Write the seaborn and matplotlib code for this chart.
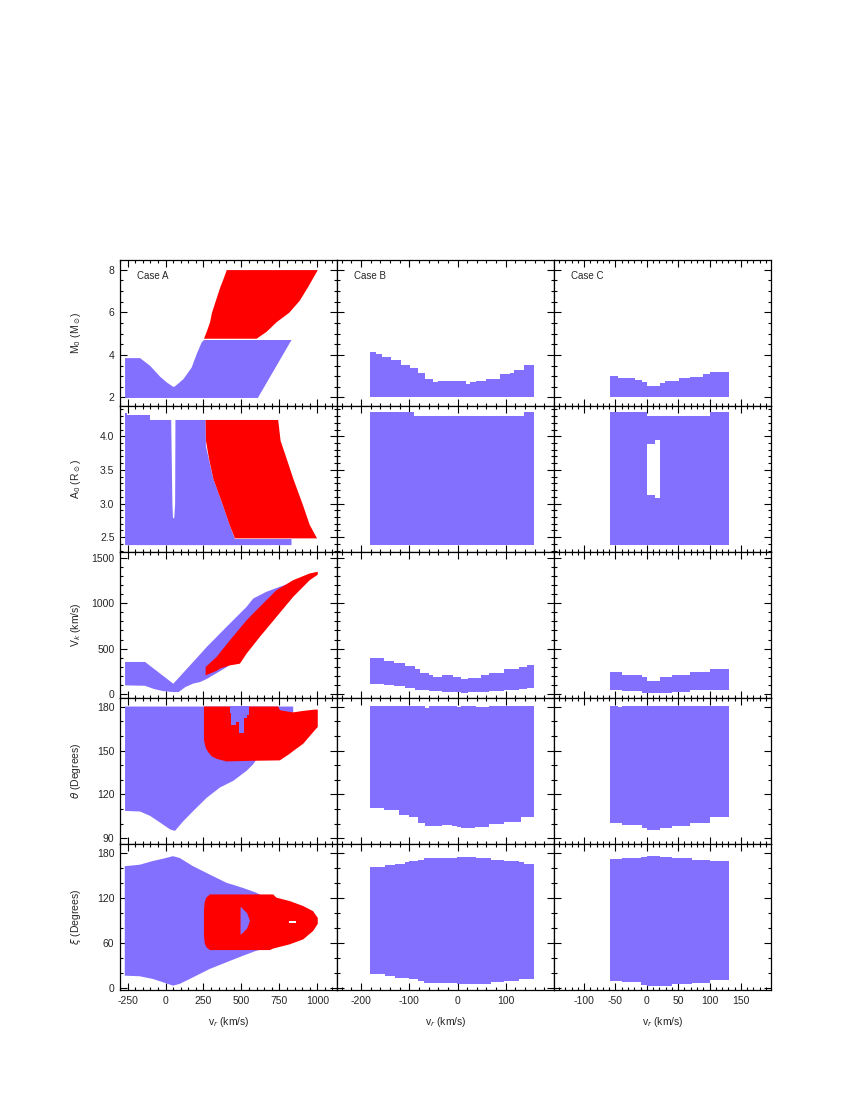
import matplotlib
matplotlib.use("Agg")
import matplotlib.pyplot as plt
from matplotlib.ticker import MultipleLocator, FixedLocator
import seaborn as sns

BLUE = "#8470ff"
RED = "#ff0000"

# ---------------- Case A (left column) ----------------
# M0 vs vr
a_m0_blue_vr = [-270, -171, -105, -39, 5, 48, 60, 114, 169, 202, 235, 250, 605, 827]
a_m0_blue_top = [3.87, 3.87, 3.51, 3.0, 2.73, 2.52, 2.55, 2.88, 3.43, 4.06, 4.61, 4.72, 4.72, 4.72]
a_m0_blue_bot = [2.0, 2.0, 2.0, 2.0, 2.0, 2.0, 2.0, 2.0, 2.0, 2.0, 2.0, 2.0, 2.0, 4.72]
a_m0_red_m = [4.78, 5.1, 5.55, 6.0, 6.55, 7.2, 7.6, 8.0]
a_m0_red_left = [250, 268, 290, 303, 328, 358, 380, 400]
a_m0_red_right = [597, 662, 728, 812, 880, 936, 968, 1000]

# A0 vs vr
a_a0_blue_a = [2.39, 2.48, 2.48, 2.69, 2.98, 3.38, 3.86, 4.25]
a_a0_blue_right = [827, 827, 454, 419, 375, 311, 263, 261]
a_a0_cap_vr = [-270, -255, -105]
a_a0_cap_top = [4.34, 4.31, 4.31]
a_a0_gap_a = [2.79, 3.0, 4.26]
a_a0_gap_left = [46, 42, 34]
a_a0_gap_right = [54, 60, 62]
a_a0_red_a = [2.49, 2.69, 2.98, 3.38, 3.68, 3.94, 4.25]
a_a0_red_left = [454, 419, 375, 311, 283, 263, 261]
a_a0_red_right = [995, 947, 903, 838, 794, 755, 739]

# Vk vs vr
a_vk_blue_vr = [-270, -138, -80, -20, 48, 83, 127, 180, 224, 268, 290, 399, 531, 575, 662, 750, 816]
a_vk_blue_top = [358, 358, 283, 206, 118, 182, 263, 360, 441, 523, 560, 745, 966, 1058, 1132, 1187, 1224]
a_vk_blue_bot = [100, 95, 60, 37, 26, 26, 81, 120, 136, 170, 192, 300, 500, 600, 780, 950, 1150]
a_vk_red_vr = [261, 333, 355, 421, 487, 531, 618, 728, 838, 947, 1000]
a_vk_red_top = [302, 413, 460, 597, 730, 818, 966, 1150, 1260, 1334, 1353]
a_vk_red_bot = [210, 260, 284, 320, 339, 450, 634, 855, 1076, 1260, 1320]

# theta vs vr
a_th_blue_vr = [-270, -171, -105, -39, 26, 59, 114, 180, 268, 355, 443, 531, 575, 618, 700, 838]
a_th_blue_bot = [109, 108.6, 105.6, 101, 96.4, 95.3, 102, 109, 118, 125, 129.6, 136.5, 141, 148, 155, 170]
a_th_red_vr = [250, 262, 278, 300, 333, 399, 553, 739, 750, 816, 838, 904, 980, 1000]
a_th_red_bot = [157.3, 152, 149.3, 146.5, 144.7, 142.9, 143.3, 143.6, 143.6, 148.2, 150, 155, 164.2, 166.5]
a_th_red_top = [180.5, 180.5, 180.5, 180.5, 180.5, 180.5, 180.5, 180.5, 178, 176.8, 176.5, 177.5, 178.4, 178.4]
a_th_notch_vr = [425, 430, 465, 487, 520, 535, 548]
a_th_notch_bot = [175.7, 167.6, 169.9, 161.9, 172.2, 174.5, 174.5]

# xi vs vr
a_xi_blue_vr = [-272, -173, -86, -20, 46, 90, 178, 287, 397, 507, 594, 638]
a_xi_blue_top = [163, 165, 170, 173, 176.4, 174, 163, 152, 141, 134, 127.7, 123]
a_xi_blue_bot = [16.8, 16, 12.4, 8, 3.5, 5.8, 14.6, 25.7, 34.6, 43.4, 50, 52]
a_xi_red_vr = [250, 255, 265, 289, 684, 706, 728, 816, 904, 969, 1000]
a_xi_red_top = [105, 115, 121, 125.3, 125.3, 125.3, 121, 116.4, 109.8, 103, 94]
a_xi_red_bot = [70, 60, 55, 51, 51, 53, 54.2, 58.7, 65.3, 76.4, 86]
a_xi_hole_xi = [72, 80, 90, 100, 108]
a_xi_hole_left = [491, 491, 491, 491, 491]
a_xi_hole_right = [497, 535, 553, 535, 497]
a_xi_spot_vr = [811, 860]
a_xi_spot_lo = [86, 86]
a_xi_spot_hi = [88.5, 88.5]

# ---------------- Case B (middle column) ----------------
b_m0_vr = [-181.5, -170, -156, -139, -118, -98, -81, -67, -50, -40, -2, 18, 25, 39, 59, 87, 108, 118, 138, 157.5]
b_m0_top = [4.14, 4.06, 3.91, 3.78, 3.51, 3.36, 3.17, 2.88, 2.73, 2.77, 2.76, 2.65, 2.71, 2.77, 2.88, 3.09, 3.15, 3.31, 3.54, 3.54]
b_a0_vr = [-181.5, -91, 138, 157.5]
b_a0_top = [4.36, 4.30, 4.36, 4.36]
b_vk_vr = [-181.5, -152.7, -132, -109.6, -89, -77, -60, -50, -33, -9, 8, 22, 49, 66, 97, 128, 145, 157.5]
b_vk_top = [393, 368, 346, 309, 272, 235, 210, 184, 210, 191, 169, 177, 210, 228, 272, 301, 320, 331]
b_vk_bot = [110, 95, 82, 65, 44, 40, 33, 30, 25, 18, 15, 18, 26, 35, 40, 52, 62, 81]
b_th_vr = [-181.5, -152.7, -122, -101, -81, -67, -60, -33, -12, -2, 8, 35.6, 39, 66, 70, 97, 131, 157.5]
b_th_bot = [110.4, 109.2, 105.8, 104.7, 100.1, 98.2, 98.2, 98.7, 98.2, 97.5, 97.3, 97.5, 97.5, 99.6, 99.6, 101.2, 104.7, 106.5]
b_th_top = [180.5, 180.5, 180.5, 180.5, 180.5, 179.3, 180.5, 180.5, 180.5, 179.5, 180.5, 180.5, 179.5, 180.5, 180.5, 180.5, 180.5, 180.5]
b_xi_vr = [-181.5, -150.7, -130, -109.6, -101, -82, -70.6, -2, 39, 70, 97, 128, 138, 157.5]
b_xi_top = [161.8, 164, 165.3, 167.6, 169.8, 171, 173.3, 174.2, 172.9, 171, 168.9, 167.6, 165.3, 165.3]
b_xi_bot = [17.8, 15.6, 13.5, 12.9, 11.1, 8.4, 6.5, 4.4, 5.3, 7.6, 8.9, 12, 12, 14.2]

# ---------------- Case C (right column) ----------------
c_m0_vr = [-58.3, -46.7, -19.3, -7.1, 0.8, 20.8, 29.7, 50.8, 69.3, 89.4, 101, 131]
c_m0_top = [2.99, 2.91, 2.80, 2.73, 2.54, 2.70, 2.77, 2.90, 2.96, 3.12, 3.18, 3.18]
c_a0_vr = [-58.3, 0.8, 100, 131]
c_a0_top = [4.36, 4.30, 4.36, 4.36]
c_a0_hole_vr = [0.8, 12.3, 20.8]
c_a0_hole_lo = [3.13, 3.09, 3.09]
c_a0_hole_hi = [3.89, 3.94, 3.94]
c_vk_vr = [-58.3, -38.8, -7.1, 0.8, 20.8, 40.3, 69.3, 100, 131]
c_vk_top = [243, 210, 184, 147, 184, 210, 243, 272, 272]
c_vk_bot = [44, 33, 15, 15, 15, 26, 44, 44, 44]
c_th_vr = [-58.3, -46.7, -38.8, -7.1, 0.8, 20.8, 40.3, 69.3, 100, 131]
c_th_bot = [100.1, 100.1, 98.9, 96.7, 95.5, 97.3, 98.2, 100.1, 104.2, 104.2]
c_th_top = [180.5, 179.5, 180.5, 180.5, 180.5, 180.5, 180.5, 180.5, 180.5, 180.5]
c_xi_vr = [-58.3, -38.8, -9.8, 0.8, 20.8, 40.3, 72, 100, 131]
c_xi_top = [172, 173.3, 174.2, 176, 174.2, 172.9, 171, 168.9, 168.9]
c_xi_bot = [8.4, 7.6, 3.5, 2.7, 2.7, 4.5, 6.5, 9.8, 10.7]

# ---------------- axes settings ----------------
case_names = ["Case A", "Case B", "Case C"]
col_xlim = [(-300, 1130), (-250, 200), (-148, 198)]
col_xticks = [[-250, 0, 250, 500, 750, 1000], [-200, -100, 0, 100], [-100, -50, 0, 50, 100, 150]]
col_xminor = [50, 20, 10]
row_ylim = [(1.6, 8.45), (2.28, 4.45), (-45, 1565), (86, 186), (-3, 192)]
row_yticks = [[2, 4, 6, 8], [2.5, 3.0, 3.5, 4.0], [0, 500, 1000, 1500], [90, 120, 150, 180], [0, 60, 120, 180]]
row_yticklabels = [["2", "4", "6", "8"], ["2.5", "3.0", "3.5", "4.0"], ["0", "500", "1000", "1500"],
                   ["90", "120", "150", "180"], ["0", "60", "120", "180"]]
row_yminor = [0.5, 0.1, 100, 10, 20]
row_ylabels = [r"M$_0$ (M$_\odot$)", r"A$_0$ (R$_\odot$)", r"V$_k$ (km/s)",
               r"$\theta$ (Degrees)", r"$\xi$ (Degrees)"]

sns.set_style("ticks")
plt.rcParams["font.family"] = ["Liberation Sans", "DejaVu Sans"]
plt.rcParams["mathtext.fontset"] = "dejavusans"

fig, axes = plt.subplots(5, 3, figsize=(8.5, 11), dpi=100)
fig.subplots_adjust(left=120 / 850, right=771 / 850, top=1 - 260 / 1100, bottom=1 - 990 / 1100,
                    wspace=0, hspace=0)

kw = dict(linewidth=0)

# Case A
ax = axes[0, 0]
ax.fill_between(a_m0_blue_vr, a_m0_blue_bot, a_m0_blue_top, color=BLUE, **kw)
ax.fill_betweenx(a_m0_red_m, a_m0_red_left, a_m0_red_right, color=RED, **kw)

ax = axes[1, 0]
ax.fill_betweenx(a_a0_blue_a, -270, a_a0_blue_right, color=BLUE, **kw)
ax.fill_between(a_a0_cap_vr, 4.24, a_a0_cap_top, step="post", color=BLUE, **kw)
ax.fill_betweenx(a_a0_gap_a, a_a0_gap_left, a_a0_gap_right, color="white", **kw)
ax.fill_betweenx(a_a0_red_a, a_a0_red_left, a_a0_red_right, color=RED, **kw)

ax = axes[2, 0]
ax.fill_between(a_vk_blue_vr, a_vk_blue_bot, a_vk_blue_top, color=BLUE, **kw)
ax.fill_between(a_vk_red_vr, a_vk_red_bot, a_vk_red_top, color=RED, **kw)

ax = axes[3, 0]
ax.fill_between(a_th_blue_vr, a_th_blue_bot, 180.5, color=BLUE, **kw)
ax.fill_between(a_th_red_vr, a_th_red_bot, a_th_red_top, color=RED, **kw)
ax.fill_between(a_th_notch_vr, a_th_notch_bot, 180.5, step="post", color=BLUE, **kw)

ax = axes[4, 0]
ax.fill_between(a_xi_blue_vr, a_xi_blue_bot, a_xi_blue_top, color=BLUE, **kw)
ax.fill_between(a_xi_red_vr, a_xi_red_bot, a_xi_red_top, color=RED, **kw)
ax.fill_betweenx(a_xi_hole_xi, a_xi_hole_left, a_xi_hole_right, color=BLUE, **kw)
ax.fill_between(a_xi_spot_vr, a_xi_spot_lo, a_xi_spot_hi, color="white", **kw)

# Case B
axes[0, 1].fill_between(b_m0_vr, 2.0, b_m0_top, step="post", color=BLUE, **kw)
axes[1, 1].fill_between(b_a0_vr, 2.38, b_a0_top, step="post", color=BLUE, **kw)
axes[2, 1].fill_between(b_vk_vr, b_vk_bot, b_vk_top, step="post", color=BLUE, **kw)
axes[3, 1].fill_between(b_th_vr, b_th_bot, b_th_top, step="post", color=BLUE, **kw)
axes[4, 1].fill_between(b_xi_vr, b_xi_bot, b_xi_top, step="post", color=BLUE, **kw)

# Case C
axes[0, 2].fill_between(c_m0_vr, 2.0, c_m0_top, step="post", color=BLUE, **kw)
axes[1, 2].fill_between(c_a0_vr, 2.38, c_a0_top, step="post", color=BLUE, **kw)
axes[1, 2].fill_between(c_a0_hole_vr, c_a0_hole_lo, c_a0_hole_hi, step="post", color="white", **kw)
axes[2, 2].fill_between(c_vk_vr, c_vk_bot, c_vk_top, step="post", color=BLUE, **kw)
axes[3, 2].fill_between(c_th_vr, c_th_bot, c_th_top, step="post", color=BLUE, **kw)
axes[4, 2].fill_between(c_xi_vr, c_xi_bot, c_xi_top, step="post", color=BLUE, **kw)

for r in range(5):
    for c in range(3):
        ax = axes[r, c]
        ax.set_xlim(col_xlim[c])
        ax.set_ylim(row_ylim[r])
        ax.xaxis.set_major_locator(FixedLocator(col_xticks[c]))
        ax.xaxis.set_minor_locator(MultipleLocator(col_xminor[c]))
        ax.yaxis.set_major_locator(FixedLocator(row_yticks[r]))
        ax.yaxis.set_minor_locator(MultipleLocator(row_yminor[r]))
        ax.tick_params(which="both", direction="in", top=True, right=True,
                       width=0.8, color="black", labelsize=7.5, pad=4)
        ax.tick_params(which="major", length=5)
        ax.tick_params(which="minor", length=2.5)
        for sp in ax.spines.values():
            sp.set_linewidth(0.9)
            sp.set_color("black")
        if c == 0:
            ax.set_yticklabels(row_yticklabels[r])
            ax.set_ylabel(row_ylabels[r], fontsize=7.5)
            ax.yaxis.set_label_coords(-0.17, 0.5)
        else:
            ax.tick_params(labelleft=False)
        if r == 4:
            ax.set_xticklabels([str(t) for t in col_xticks[c]])
            ax.set_xlabel(r"v$_r$ (km/s)", fontsize=7.5)
            ax.xaxis.set_label_coords(0.5, -0.17)
        else:
            ax.tick_params(labelbottom=False)
        if r == 0:
            ax.text(0.08, 0.87, case_names[c], transform=ax.transAxes, fontsize=7)

fig.savefig("out.png", dpi=100, facecolor="white")
